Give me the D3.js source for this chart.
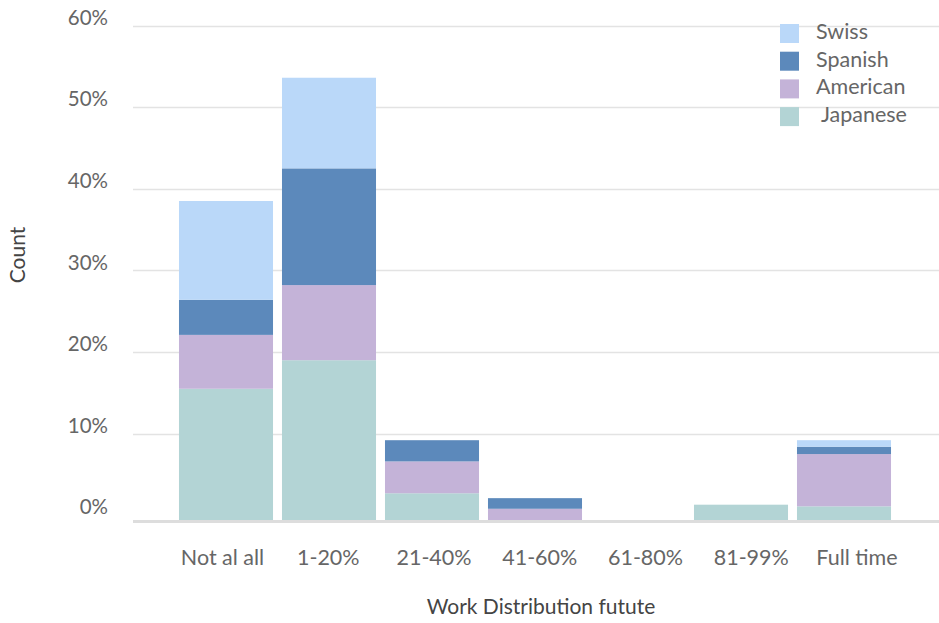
<!DOCTYPE html>
<html>
<head>
<meta charset="utf-8">
<script src="https://cdn.jsdelivr.net/npm/d3@7"></script>
<style>
  html, body { margin: 0; padding: 0; background: #fff; }
  svg { display: block; font-family: Lato, "Open Sans", sans-serif; }
</style>
</head>
<body>
<svg id="chart" width="939" height="623"></svg>
<script>
// Work distribution categories (x axis)
const categories = ["Not al all", "1-20%", "21-40%", "41-60%", "61-80%", "81-99%", "Full time"];

// Share of respondents per nationality, in percent
const japanese = [15.5, 19.0, 2.7, 0.0, 0.0, 1.3, 1.1];
const american = [6.6, 9.2, 3.9, 0.8, 0.0, 0.0, 6.4];
const spanish  = [4.3, 14.3, 2.6, 1.3, 0.0, 0.0, 0.9];
const swiss    = [12.1, 11.1, 0.0, 0.0, 0.0, 0.0, 0.8];

// Stack order bottom -> top
const seriesNames = ["Japanese", "American", "Spanish", "Swiss"];
const seriesValues = [japanese, american, spanish, swiss];
const seriesColors = ["#b3d4d5", "#c4b3d8", "#5c89bb", "#bad8f9"];

// Legend order (top -> bottom) and labels
const legendNames = ["Swiss", "Spanish", "American", "Japanese"];
const legendLabels = ["Swiss", "Spanish", "American", " Japanese"];

const yTicks = [0, 10, 20, 30, 40, 50, 60];

const svg = d3.select("#chart");

const plot = { left: 133, right: 939, top: 25.5, bottom: 521 };

const x = d3.scaleBand()
  .domain(categories)
  .range([174.5, 895.5])
  .paddingInner(0.087)
  .paddingOuter(0.0435);

const xLabel = d3.scalePoint()
  .domain(categories)
  .range([222.5, 857]);

const y = d3.scaleLinear()
  .domain([0, 60])
  .range([515.3, plot.top]);

const color = d3.scaleOrdinal().domain(seriesNames).range(seriesColors);

// Table for stacking
const table = categories.map((c, i) => {
  const row = { category: c };
  seriesNames.forEach((s, k) => { row[s] = seriesValues[k][i]; });
  return row;
});
const stacked = d3.stack().keys(seriesNames)(table);

// Horizontal gridlines
svg.append("g")
  .selectAll("line")
  .data(yTicks.filter(t => t > 0))
  .join("line")
  .attr("x1", plot.left)
  .attr("x2", plot.right)
  .attr("y1", d => Math.round(y(d)) + 0.5)
  .attr("y2", d => Math.round(y(d)) + 0.5)
  .attr("stroke", "#e3e3e3")
  .attr("stroke-width", 1.5);

// Y tick labels
svg.append("g")
  .selectAll("text")
  .data(yTicks)
  .join("text")
  .attr("x", 108)
  .attr("y", d => y(d) - 6)
  .attr("text-anchor", "end")
  .attr("dominant-baseline", "middle")
  .attr("fill", "#666")
  .attr("font-size", 20.5)
  .text(d => d + "%");

// Stacked bars
svg.append("g")
  .selectAll("g")
  .data(stacked)
  .join("g")
  .attr("fill", d => color(d.key))
  .selectAll("rect")
  .data(d => d.filter(p => p[1] - p[0] > 0))
  .join("rect")
  .attr("x", d => x(d.data.category))
  .attr("width", x.bandwidth())
  .attr("y", d => y(d[1]))
  .attr("height", d => (d[0] === 0 ? plot.bottom : y(d[0])) - y(d[1]));

// Baseline
svg.append("line")
  .attr("x1", plot.left)
  .attr("x2", plot.right)
  .attr("y1", plot.bottom + 0.5)
  .attr("y2", plot.bottom + 0.5)
  .attr("stroke", "#dddddd")
  .attr("stroke-width", 3);

// X category labels
svg.append("g")
  .selectAll("text")
  .data(categories)
  .join("text")
  .attr("x", d => xLabel(d))
  .attr("y", 565)
  .attr("text-anchor", "middle")
  .attr("fill", "#666")
  .attr("font-size", 21.5)
  .text(d => d);

// Axis titles
svg.append("text")
  .attr("x", 541)
  .attr("y", 614)
  .attr("text-anchor", "middle")
  .attr("fill", "#444")
  .attr("font-size", 21)
  .text("Work Distribution futute");

svg.append("text")
  .attr("transform", "translate(25,255) rotate(-90)")
  .attr("text-anchor", "middle")
  .attr("fill", "#444")
  .attr("font-size", 21)
  .text("Count");

// Legend
const legend = svg.append("g")
  .selectAll("g")
  .data(legendNames)
  .join("g")
  .attr("transform", (d, i) => `translate(780,${24 + i * 27.7})`);

legend.append("rect")
  .attr("width", 19)
  .attr("height", 19)
  .attr("fill", d => color(d));

legend.append("text")
  .attr("x", 36)
  .attr("y", 9.5)
  .attr("dominant-baseline", "middle")
  .attr("fill", "#666")
  .attr("font-size", 21.5)
  .attr("xml:space", "preserve")
  .style("white-space", "pre")
  .text((d, i) => legendLabels[i]);
</script>
</body>
</html>
